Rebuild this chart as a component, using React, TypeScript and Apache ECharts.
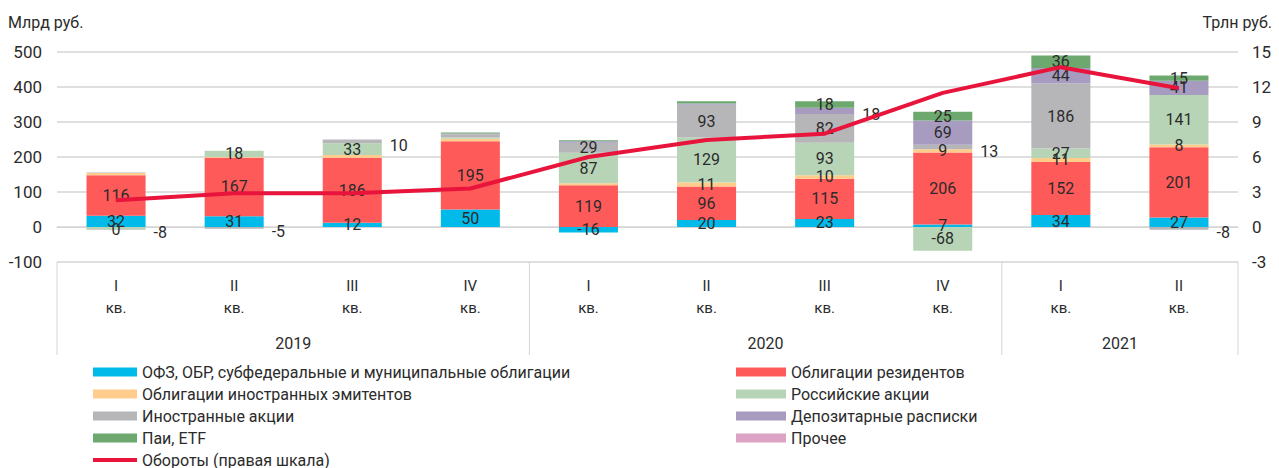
import React, { useEffect, useRef } from "react";
import * as echarts from "echarts";

// ---- data ----
const quarters = ["I", "II", "III", "IV", "I", "II", "III", "IV", "I", "II"];
const years = ["2019", "2020", "2021"];
const quartersPerYear = [4, 4, 2];

const seriesNames = [
  "ОФЗ, ОБР, субфедеральные и муниципальные облигации",
  "Облигации резидентов",
  "Облигации иностранных эмитентов",
  "Российские акции",
  "Иностранные акции",
  "Депозитарные расписки",
  "Паи, ETF",
  "Прочее",
];
const lineName = "Обороты (правая шкала)";

const ofz = [32, 31, 12, 50, -16, 20, 23, 7, 34, 27];
const residentBonds = [116, 167, 186, 195, 119, 96, 115, 206, 152, 201];
const foreignBonds = [6, 2, 8, 7, 6, 11, 10, 9, 11, 8];
const russianShares = [-8, 18, 33, 4, 87, 129, 93, -68, 27, 141];
const foreignShares = [2, -5, 10, 9, 29, 93, 82, 13, 186, -8];
const depositary = [0, 0, 1, 2, 4, 4, 18, 69, 44, 41];
const fundsEtf = [0, 0, 0, 3, 3, 6, 18, 25, 36, 15];
const other = [-0.3, 0, 0, 0, 0, 0, 0, 0, 0, 0];
const turnover = [2.3, 2.9, 2.9, 3.3, 6.0, 7.45, 8.0, 11.5, 13.7, 11.9];

// label mode per point: "" hidden, "in" inside, "r" right of bar
const ofzLbl = ["in", "in", "in", "in", "in", "in", "in", "in", "in", "in"];
const residentLbl = ["in", "in", "in", "in", "in", "in", "in", "in", "in", "in"];
const foreignBondsLbl = ["", "", "", "", "", "in", "in", "in", "in", "in"];
const russianLbl = ["r", "in", "in", "", "in", "in", "in", "in", "in", "in"];
const foreignSharesLbl = ["", "r", "r", "", "in", "in", "in", "r", "in", "r"];
const depositaryLbl = ["", "", "", "", "", "", "r", "in", "in", "in"];
const fundsLbl = ["", "", "", "", "", "", "in", "in", "in", "in"];
const otherLbl = ["in", "", "", "", "", "", "", "", "", ""];

const seriesValues = [ofz, residentBonds, foreignBonds, russianShares, foreignShares, depositary, fundsEtf, other];
const seriesLabels = [ofzLbl, residentLbl, foreignBondsLbl, russianLbl, foreignSharesLbl, depositaryLbl, fundsLbl, otherLbl];
const colors = ["#00BBEA", "#FF5A5A", "#FFCC8C", "#B7D5B6", "#B6B6B9", "#A79CC0", "#6DA86E", "#DDA3C4"];
const lineColor = "#E8143B";

const FONT = "Roboto, 'Noto Sans', sans-serif";
const TXT = "#2b2b2b";

export default function App() {
  const ref = useRef<HTMLDivElement>(null);
  useEffect(() => {
    if (!ref.current) return;
    const chart = echarts.init(ref.current, null, { renderer: "svg" });

    const barSeries = seriesNames.map((name, si) => ({
      name,
      type: "bar",
      stack: "total",
      barWidth: "50%",
      yAxisIndex: 0,
      itemStyle: { color: colors[si] },
      emphasis: { disabled: true },
      data: seriesValues[si].map((v, i) => {
        const mode = seriesLabels[si][i];
        let label: any = { show: false };
        if (mode === "in") label = { show: true, position: "inside" };
        else if (mode === "r") label = { show: true, position: "right", distance: 8, offset: [0, 4] };
        return { value: v, label };
      }),
      label: {
        color: TXT,
        fontSize: 16,
        fontFamily: FONT,
        formatter: (p: any) => String(Math.round(p.value) || 0),
      },
    }));

    const legendText = { color: TXT, fontSize: 16, lineHeight: 18, fontFamily: FONT };
    const option: any = {
      animation: false,
      textStyle: { fontFamily: FONT },
      grid: { left: 57, right: 41, top: 52, bottom: 206, containLabel: false },
      xAxis: [
        {
          type: "category",
          data: quarters,
          axisLine: { show: true, lineStyle: { color: "#D4D4D4", width: 1 } },
          axisTick: { show: false },
          axisLabel: {
            formatter: (v: string) => v + "\nкв.",
            color: TXT,
            fontSize: 15,
            lineHeight: 22,
            margin: 13,
            fontFamily: FONT,
          },
        },
      ],
      yAxis: [
        {
          type: "value",
          min: -100,
          max: 500,
          interval: 100,
          axisLine: { show: false },
          axisTick: { show: false },
          splitLine: { lineStyle: { color: "#D4D4D4", width: 1.5 } },
          axisLabel: { color: TXT, fontSize: 17, margin: 15, fontFamily: FONT },
        },
        {
          type: "value",
          min: -3,
          max: 15,
          interval: 3,
          position: "right",
          axisLine: { show: false },
          axisTick: { show: false },
          splitLine: { show: false },
          axisLabel: { color: TXT, fontSize: 17, margin: 14, fontFamily: FONT },
        },
      ],
      legend: [
        {
          orient: "vertical",
          left: 86,
          top: 358,
          height: 120,
          itemWidth: 44,
          itemHeight: 9,
          itemGap: 4,
          selectedMode: false,
          textStyle: legendText,
          data: [
            { name: seriesNames[0], icon: "rect" },
            { name: seriesNames[2], icon: "rect" },
            { name: seriesNames[4], icon: "rect" },
            { name: seriesNames[6], icon: "rect" },
            {
              name: lineName,
              itemStyle: { color: "rgba(0,0,0,0)", borderWidth: 0, opacity: 0 },
              lineStyle: { width: 4, color: lineColor },
            },
          ],
        },
        {
          orient: "vertical",
          left: 731,
          top: 358,
          height: 120,
          itemWidth: 50,
          itemHeight: 9,
          itemGap: 4,
          selectedMode: false,
          textStyle: legendText,
          data: [
            { name: seriesNames[1], icon: "rect" },
            { name: seriesNames[3], icon: "rect" },
            { name: seriesNames[5], icon: "rect" },
            { name: seriesNames[7], icon: "rect" },
          ],
        },
      ],
      series: [
        ...barSeries,
        {
          name: lineName,
          type: "line",
          yAxisIndex: 1,
          z: 2,
          data: turnover,
          symbol: "none",
          lineStyle: { color: lineColor, width: 4 },
          itemStyle: { color: lineColor },
          emphasis: { disabled: true },
        },
      ],
    };
    chart.setOption(option);

    // axis decorations (year separators & labels) from the library's scales
    const c0 = chart.convertToPixel({ xAxisIndex: 0 }, 0) as number;
    const c1 = chart.convertToPixel({ xAxisIndex: 0 }, 1) as number;
    const band = c1 - c0;
    const yTop = chart.convertToPixel({ yAxisIndex: 0 }, -100) as number;
    const yBottom = yTop + 93;
    const graphics: any[] = [];
    let start = 0;
    const edges: number[] = [c0 - band / 2];
    quartersPerYear.forEach((n, yi) => {
      const left = c0 - band / 2 + start * band;
      const right = left + n * band;
      edges.push(right);
      graphics.push({
        type: "text",
        x: (left + right) / 2,
        y: yTop + 81,
        style: { text: years[yi], fill: TXT, font: `16px ${FONT}`, align: "center", verticalAlign: "middle" },
      });
      start += n;
    });
    edges.forEach((x) => {
      graphics.push({
        type: "line",
        shape: { x1: x, y1: yTop, x2: x, y2: yBottom },
        style: { stroke: "#D4D4D4", lineWidth: 1 },
      });
    });
    graphics.push(
      { type: "text", left: 8, top: 14, style: { text: "Млрд руб.", fill: TXT, font: `16px ${FONT}` } },
      { type: "text", right: 7, top: 14, style: { text: "Трлн руб.", fill: TXT, font: `16px ${FONT}` } }
    );
    chart.setOption({ graphic: graphics });

    return () => chart.dispose();
  }, []);
  return (
    <div
      ref={ref}
      style={{ position: "fixed", left: 0, top: 0, width: 1279, height: 468, background: "#fff" }}
    />
  );
}
